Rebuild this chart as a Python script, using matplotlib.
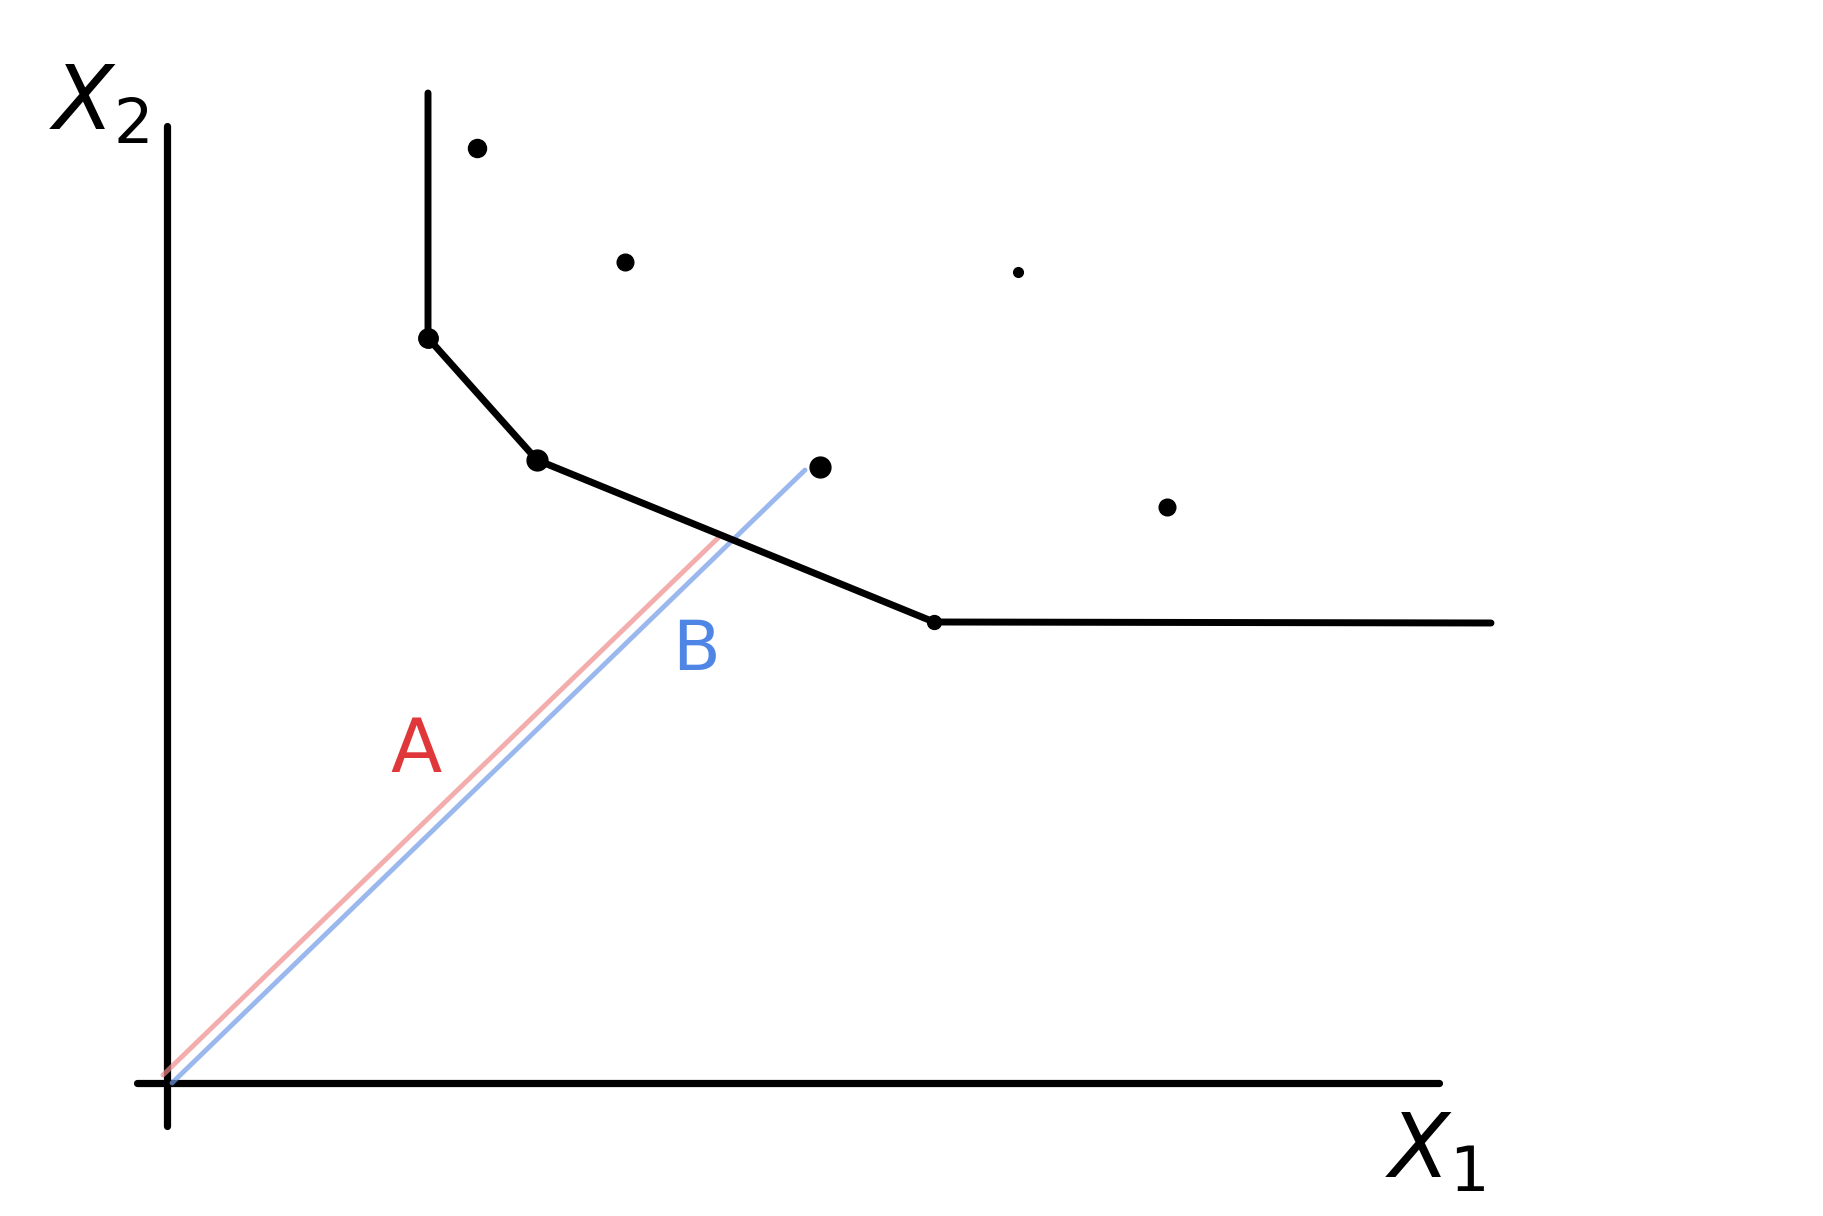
import matplotlib
matplotlib.use("Agg")
import matplotlib.pyplot as plt

# hand sketch: isoquant / frontier in (x1, x2) space, origin at the axis crossing
frontier_x1 = [2.605, 2.605, 3.695, 7.665, 13.235]
frontier_x2 = [9.90, 7.45, 6.23, 4.61, 4.60]
kink_x1 = [2.605, 3.695, 7.665]
kink_x2 = [7.45, 6.23, 4.61]
kink_size = [14, 15, 10]

dots_x1 = [3.095, 4.575, 8.505, 6.525, 9.995]
dots_x2 = [9.35, 8.21, 8.11, 6.16, 5.76]
dots_size = [13, 12, 7, 15, 12]

ray_a_x1 = [-0.045, 5.505]
ray_a_x2 = [0.08, 5.45]
ray_b_x1 = [0.045, 6.375]
ray_b_x2 = [0.0, 6.13]

axis_x1 = [-0.305, 12.715]
axis_x2 = [-0.43, 9.57]

fig = plt.figure(figsize=(18.24, 12.16), dpi=100)
ax = fig.add_axes([0, 0, 1, 1])
ax.set_xlim(-1.675, 16.565)
ax.set_ylim(-1.33, 10.83)
ax.axis("off")

# axes
ax.plot(axis_x1, [0, 0], color="black", lw=5.2, solid_capstyle="round")
ax.plot([0, 0], axis_x2, color="black", lw=5.2, solid_capstyle="round")

# rays A and B
ax.plot(ray_a_x1, ray_a_x2, color="#f08a8a", lw=3.5, alpha=0.7, solid_capstyle="round")
ax.plot(ray_b_x1, ray_b_x2, color="#6f9be8", lw=3.5, alpha=0.7, solid_capstyle="round")

# frontier
ax.plot(frontier_x1, frontier_x2, color="black", lw=5.0,
        solid_capstyle="round", solid_joinstyle="round")
for x, y, s in zip(kink_x1, kink_x2, kink_size):
    ax.plot(x, y, "o", color="black", ms=s)

# other observations
for x, y, s in zip(dots_x1, dots_x2, dots_size):
    ax.plot(x, y, "o", color="black", ms=s)

# labels
plt.rcParams["mathtext.fontset"] = "dejavusans"
ax.text(-0.68, 9.78, r"$X_2$", fontsize=64, ha="center", va="center", color="black")
ax.text(12.68, -0.7, r"$X_1$", fontsize=64, ha="center", va="center", color="black")
ax.text(2.49, 3.32, "A", fontsize=54, ha="center", va="center", color="#e0383a")
ax.text(5.29, 4.33, "B", fontsize=50, ha="center", va="center", color="#4f86e6")

fig.savefig("out.png", dpi=100, facecolor="white")
